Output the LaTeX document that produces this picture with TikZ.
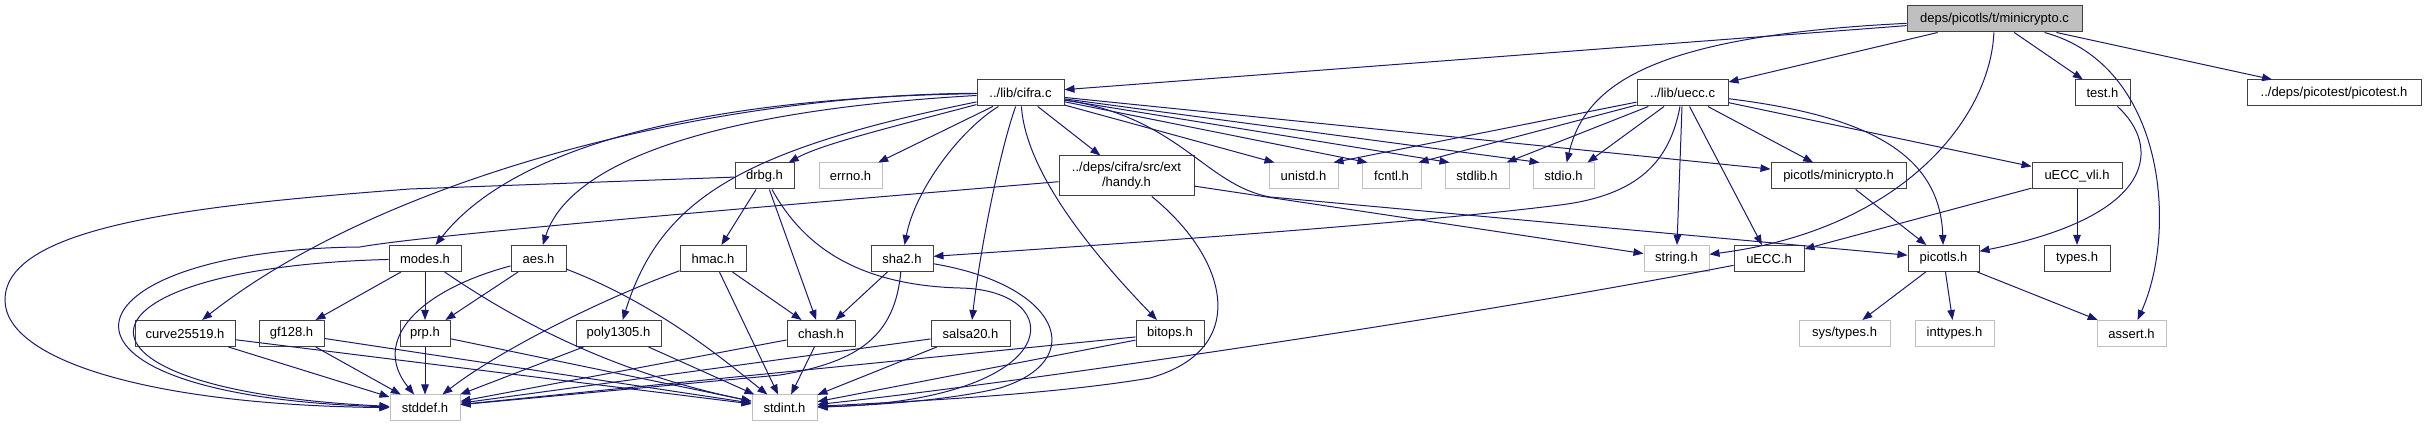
\documentclass[tikz,border=0pt]{standalone}
\usepackage{fontspec}
\setmainfont{Liberation Sans}
\usetikzlibrary{arrows.meta}
\definecolor{edgec}{HTML}{191970}
\definecolor{docb}{HTML}{404040}
\definecolor{undoc}{HTML}{BFBFBF}
\begin{document}
\begin{tikzpicture}[x=1pt,y=-1pt,
  box/.style={draw=docb, line width=1pt, inner sep=0pt, minimum height=26pt, font=\fontsize{13}{15}\selectfont, text=black},
  ubox/.style={box, draw=undoc},
  rootbox/.style={box, fill=undoc},
  edge/.style={draw=edgec, line width=1pt, -{Triangle[length=10pt,width=7.5pt]}},
]
\useasboundingbox[fill=white] (0,0) rectangle (2426,427);
% row 1
\node[rootbox, minimum width=175pt] (root) at (1994.5,19) {deps/picotls/t/minicrypto.c};
% row 2
\node[box, minimum width=87pt] (cifra) at (1020.5,93) {../lib/cifra.c};
\node[box, minimum width=91pt] (uecc) at (1682.5,93) {../lib/uecc.c};
\node[box, minimum width=55pt] (test) at (2102.5,93) {test.h};
\node[box, minimum width=174pt] (picotest) at (2334,93) {../deps/picotest/picotest.h};
% row 3
\node[box, minimum width=59pt] (drbg) at (764.5,176) {drbg.h};
\node[ubox, minimum width=63pt] (errno) at (850.5,176) {errno.h};
\node[box, minimum width=135pt, minimum height=40pt, align=center] (handy) at (1126.5,176) {../deps/cifra/src/ext\\/handy.h};
\node[ubox, minimum width=69pt] (unistd) at (1303.5,176) {unistd.h};
\node[ubox, minimum width=59pt] (fcntl) at (1391.5,176) {fcntl.h};
\node[ubox, minimum width=64pt] (stdlib) at (1477,176) {stdlib.h};
\node[ubox, minimum width=61pt] (stdio) at (1563.5,176) {stdio.h};
\node[box, minimum width=135pt] (minih) at (1838.5,176) {picotls/minicrypto.h};
\node[box, minimum width=90pt] (ueccvli) at (2077,176) {uECC\_vli.h};
% row 4
\node[box, minimum width=72pt] (modes) at (425,258.5) {modes.h};
\node[box, minimum width=55pt] (aes) at (538.5,258.5) {aes.h};
\node[box, minimum width=66pt] (hmac) at (713,258.5) {hmac.h};
\node[box, minimum width=62pt] (sha2) at (902,258.5) {sha2.h};
\node[ubox, minimum width=65pt] (string) at (1676.5,258.5) {string.h};
\node[box, minimum width=70pt] (ueccH) at (1769,258.5) {uECC.h};
\node[box, minimum width=71pt] (picotls) at (1943.5,258.5) {picotls.h};
\node[box, minimum width=66pt] (types) at (2077,258.5) {types.h};
% row 5
\node[box, minimum width=100pt] (curve) at (185,333.5) {curve25519.h};
\node[box, minimum width=65pt] (gf128) at (291.5,333.5) {gf128.h};
\node[box, minimum width=50pt] (prp) at (425,333.5) {prp.h};
\node[box, minimum width=85pt] (poly) at (618.5,333.5) {poly1305.h};
\node[box, minimum width=68pt] (chash) at (821,333.5) {chash.h};
\node[box, minimum width=79pt] (salsa) at (970.5,333.5) {salsa20.h};
\node[box, minimum width=68pt] (bitops) at (1170,333.5) {bitops.h};
\node[ubox, minimum width=91pt] (systypes) at (1844.5,333.5) {sys/types.h};
\node[ubox, minimum width=79pt] (inttypes) at (1954.5,333.5) {inttypes.h};
\node[ubox, minimum width=69pt] (assert) at (2131.5,333.5) {assert.h};
% row 6
\node[ubox, minimum width=70pt] (stddef) at (425,408) {stddef.h};
\node[ubox, minimum width=65pt] (stdint) at (784.5,408) {stdint.h};

% root edges
\draw[edge] (root) -- (cifra);
\draw[edge] (root) -- (uecc);
\draw[edge] (root) -- (test);
\draw[edge] (root) -- (picotest);
\draw[edge] (root) .. controls (2165,65) and (2178,230) .. (assert);
\draw[edge] (root) .. controls (1990,120) and (1900,230) .. (string);
\draw[edge] (root) .. controls (1650,36) and (1585,85) .. (stdio);
% cifra edges
\draw[edge] (cifra) .. controls (700,95) and (380,180) .. (curve);
\draw[edge] (cifra) .. controls (690,98) and (510,150) .. (modes);
\draw[edge] (cifra) .. controls (720,110) and (570,160) .. (aes);
\draw[edge] (cifra) .. controls (740,150) and (660,200) .. (poly);
\draw[edge] (cifra) .. controls (880,130) and (820,145) .. (drbg);
\draw[edge] (cifra) -- (errno);
\draw[edge] (cifra) .. controls (960,130) and (915,190) .. (sha2);
\draw[edge] (cifra) .. controls (1000,150) and (980,250) .. (salsa);
\draw[edge] (cifra) .. controls (1025,160) and (1070,230) .. (bitops);
\draw[edge] (cifra) -- (handy);
\draw[edge] (cifra) -- ([xshift=6pt]unistd.north west);
\draw[edge] (cifra) -- ([xshift=6pt]fcntl.north west);
\draw[edge] (cifra) -- ([xshift=5pt]stdlib.north west);
\draw[edge] (cifra) -- ([xshift=7pt]stdio.north west);
\draw[edge] (cifra) -- (minih);
\draw[edge] (cifra) .. controls (1180,118) and (1205,185) .. (1270,197) -- (picotls);
% uecc edges
\draw[edge] (uecc) -- ([xshift=-5pt]unistd.north east);
\draw[edge] (uecc) -- ([xshift=-3pt]fcntl.north east);
\draw[edge] (uecc) -- ([xshift=-3pt]stdlib.north east);
\draw[edge] (uecc) -- ([xshift=-7pt]stdio.north east);
\draw[edge] (uecc) -- (string);
\draw[edge] (uecc) -- (ueccH);
\draw[edge] (uecc) -- (minih);
\draw[edge] (uecc) .. controls (1860,115) and (1940,150) .. (picotls);
\draw[edge] (uecc) -- (ueccvli);
\draw[edge] (uecc) .. controls (1670,160) and (1640,195) .. (1560,205) .. controls (1400,225) and (1100,245) .. (sha2);
% others right
\draw[edge] (test) .. controls (2160,145) and (2160,215) .. (picotls);
\draw[edge] (minih) -- (picotls);
\draw[edge] (picotls) -- (systypes);
\draw[edge] (picotls) -- (inttypes);
\draw[edge] (picotls) -- (assert);
\draw[edge] (ueccvli) -- (ueccH);
\draw[edge] (ueccvli) -- (types);
\draw[edge] (ueccH) .. controls (1450,320) and (1000,385) .. (stdint);
% handy
\draw[edge] (handy) -- (string);
\draw[edge] (handy) .. controls (1230,260) and (1250,350) .. (1150,378) .. controls (1050,395) and (900,402) .. (stdint);
\draw[edge] (handy) .. controls (700,212) and (420,236) .. (360,247) .. controls (60,250) and (10,395) .. (stddef);
% drbg
\draw[edge] (drbg) -- (hmac);
\draw[edge] (drbg) -- (chash);
\draw[edge] (drbg) .. controls (800,240) and (850,285) .. (960,288) .. controls (1070,290) and (1070,400) .. (stdint);
\draw[edge] (drbg) -- (410,189) .. controls (200,205) and (5,225) .. (5,300) .. controls (5,360) and (150,405) .. (stddef);
% modes
\draw[edge] (modes) -- (gf128);
\draw[edge] (modes) -- (prp);
\draw[edge] (modes) .. controls (500,310) and (600,370) .. (stdint);
\draw[edge] (modes) .. controls (60,268) and (40,390) .. (stddef);
% aes
\draw[edge] (aes) -- (prp);
\draw[edge] (aes) .. controls (660,305) and (730,365) .. (stdint);
\draw[edge] (aes) .. controls (420,290) and (370,340) .. (stddef);
% hmac
\draw[edge] (hmac) -- (chash);
\draw[edge] (hmac) -- (stdint);
\draw[edge] (hmac) .. controls (600,300) and (500,350) .. (stddef);
% sha2
\draw[edge] (sha2) -- (chash);
\draw[edge] (sha2) .. controls (895,335) and (860,362) .. (780,375) -- (stddef);
\draw[edge] (sha2) .. controls (1060,285) and (1090,360) .. (1000,388) .. controls (950,400) and (880,405) .. (stdint);
% lower
\draw[edge] (curve) -- (stddef);
\draw[edge] (curve) -- (stdint);
\draw[edge] (gf128) -- (stddef);
\draw[edge] (gf128) -- (stdint);
\draw[edge] (prp) -- (stddef);
\draw[edge] (prp) -- (stdint);
\draw[edge] (poly) -- (stddef);
\draw[edge] (poly) -- (stdint);
\draw[edge] (chash) -- (stddef);
\draw[edge] (chash) -- (stdint);
\draw[edge] (salsa) -- (stddef);
\draw[edge] (salsa) -- (stdint);
\draw[edge] (bitops) -- (stddef);
\draw[edge] (bitops) -- (stdint);
\end{tikzpicture}
\end{document}
